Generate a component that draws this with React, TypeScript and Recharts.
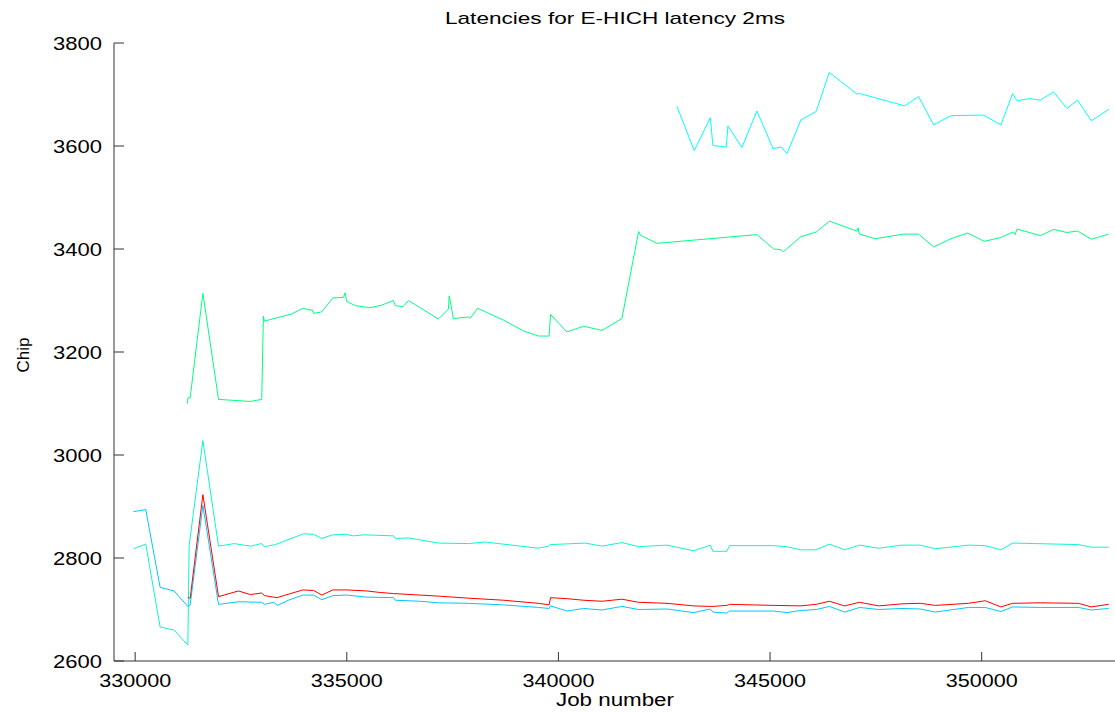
import { LineChart, Line, XAxis, YAxis } from 'recharts'

const xTicks = [330000, 335000, 340000, 345000, 350000]
const yTicks = [2600, 2800, 3000, 3200, 3400, 3600, 3800]

// top cyan series
const topJobs = [342800, 343210, 343590, 343650, 343965, 344005, 344335, 344690, 345070, 345265, 345400, 345730, 346090, 346400, 347050, 347115, 348180, 348510, 348865, 349280, 350045, 350455, 350730, 350835, 351130, 351385, 351700, 352015, 352265, 352590, 353000]
const topChips = [3677, 3591, 3655, 3601, 3598, 3639, 3597, 3668, 3595, 3598, 3585, 3651, 3667, 3743, 3701, 3702, 3678, 3696, 3641, 3659, 3660, 3641, 3702, 3688, 3692, 3689, 3705, 3673, 3689, 3649, 3671]

// green series
const greenJobs = [331236, 331245, 331300, 331600, 331970, 332720, 332990, 333030, 333055, 333700, 333960, 334150, 334175, 334215, 334410, 334670, 334920, 334960, 335000, 335200, 335550, 335830, 336100, 336145, 336325, 336460, 337165, 337400, 337420, 337520, 337875, 337915, 338090, 338700, 339175, 339530, 339780, 339815, 340200, 340595, 341030, 341500, 341895, 341935, 342330, 344690, 345085, 345240, 345320, 345730, 346090, 346405, 347050, 347080, 347110, 347485, 348155, 348510, 348865, 349300, 349670, 350060, 350440, 350740, 350790, 350835, 351385, 351700, 352015, 352265, 352590, 353000]
const greenChips = [3100, 3111, 3111, 3314, 3108, 3104, 3108, 3270, 3260, 3274, 3285, 3281, 3283, 3275, 3278, 3305, 3306, 3315, 3298, 3290, 3286, 3291, 3300, 3290, 3288, 3300, 3264, 3283, 3309, 3265, 3268, 3265, 3285, 3262, 3241, 3231, 3231, 3273, 3239, 3250, 3242, 3265, 3434, 3427, 3411, 3428, 3400, 3399, 3395, 3424, 3433, 3454, 3435, 3441, 3429, 3420, 3429, 3429, 3404, 3421, 3431, 3415, 3422, 3433, 3428, 3439, 3426, 3438, 3432, 3435, 3419, 3429]

// turquoise series
const turqJobs = [329960, 330250, 330590, 330920, 331245, 331275, 331600, 331970, 332340, 332720, 332990, 333055, 333310, 333975, 334215, 334410, 334670, 334960, 335160, 335400, 336105, 336145, 336460, 337165, 337875, 338270, 339530, 339765, 339805, 340635, 341030, 341500, 341895, 342565, 343195, 343590, 343650, 343980, 344045, 345085, 345400, 345715, 346090, 346405, 346760, 347115, 347565, 348115, 348550, 348905, 349690, 350085, 350455, 350730, 352290, 352585, 353000]
const turqChips = [2818, 2827, 2666, 2660, 2631, 2824, 3028, 2823, 2828, 2823, 2828, 2822, 2826, 2847, 2846, 2838, 2845, 2846, 2843, 2845, 2843, 2838, 2839, 2829, 2828, 2831, 2819, 2823, 2826, 2829, 2823, 2830, 2822, 2825, 2814, 2825, 2813, 2813, 2824, 2824, 2822, 2816, 2816, 2827, 2816, 2825, 2819, 2825, 2825, 2818, 2825, 2824, 2816, 2829, 2826, 2821, 2821]

// red series
const redJobs = [331245, 331300, 331600, 331970, 332440, 332720, 332990, 333055, 333350, 333960, 334215, 334410, 334670, 335000, 335475, 335790, 336105, 336735, 337165, 337875, 338700, 339530, 339780, 339815, 340200, 340595, 341030, 341500, 341895, 342565, 343195, 343590, 343650, 343980, 344045, 345085, 345715, 346090, 346405, 346760, 347115, 347565, 348115, 348550, 348905, 349690, 350085, 350455, 350730, 351385, 352290, 352585, 353000]
const redChips = [2723, 2722, 2923, 2725, 2736, 2729, 2732, 2727, 2723, 2738, 2737, 2728, 2738, 2738, 2736, 2733, 2731, 2728, 2726, 2722, 2718, 2712, 2709, 2723, 2721, 2718, 2716, 2720, 2714, 2712, 2707, 2706, 2706, 2708, 2710, 2708, 2707, 2710, 2716, 2707, 2714, 2707, 2711, 2712, 2708, 2712, 2717, 2705, 2712, 2713, 2712, 2705, 2710]

// blue series
const blueJobs = [329960, 330250, 330590, 330920, 331245, 331300, 331600, 331970, 332440, 332990, 333055, 333270, 333365, 333620, 333960, 334215, 334410, 334670, 335000, 335475, 336105, 336145, 336735, 337165, 337875, 338700, 339530, 339780, 339815, 340200, 340595, 341030, 341500, 341895, 342565, 343195, 343590, 343650, 343980, 344045, 345085, 345400, 345715, 346090, 346405, 346760, 347115, 347565, 348115, 348550, 348905, 349690, 350085, 350455, 350730, 351385, 352290, 352585, 353000]
const blueChips = [2890, 2894, 2743, 2736, 2706, 2709, 2902, 2710, 2715, 2714, 2710, 2714, 2708, 2718, 2728, 2728, 2719, 2727, 2728, 2724, 2723, 2718, 2716, 2713, 2712, 2709, 2704, 2702, 2707, 2697, 2702, 2699, 2706, 2700, 2701, 2694, 2701, 2695, 2693, 2697, 2697, 2694, 2698, 2700, 2706, 2695, 2704, 2700, 2702, 2701, 2695, 2704, 2704, 2696, 2705, 2704, 2704, 2699, 2702]

const toPoints = (jobs: number[], chips: number[]) => jobs.map((job, i) => ({ job, chip: chips[i] }))

const series = [
  { name: 'top', color: '#00ffff', data: toPoints(topJobs, topChips) },
  { name: 'green', color: '#00ff80', data: toPoints(greenJobs, greenChips) },
  { name: 'turq', color: '#10f5d0', data: toPoints(turqJobs, turqChips) },
  { name: 'blue', color: '#00c8ff', data: toPoints(blueJobs, blueChips) },
  { name: 'red', color: '#ff0000', data: toPoints(redJobs, redChips) },
]

const font = '"Liberation Sans", Arial, sans-serif'
const axisColor = '#333'

const BottomTick = (props: any) => {
  const { x, y, payload } = props
  return (
    <g>
      <line x1={x} y1={y} x2={x} y2={y - 9} stroke={axisColor} />
      <text x={x} y={y + 26} textAnchor="middle" fontFamily={font} fontSize={18.5} textLength={72} lengthAdjust="spacingAndGlyphs" fill="#000">
        {payload.value}
      </text>
    </g>
  )
}

const TopTick = (props: any) => {
  const { x, y } = props
  return <line x1={x} y1={y} x2={x} y2={y + 9} stroke={axisColor} />
}

const LeftTick = (props: any) => {
  const { x, y, payload } = props
  return (
    <g>
      <line x1={x} y1={y} x2={x + 10} y2={y} stroke={axisColor} />
      <text x={x - 61} y={y + 6.5} fontFamily={font} fontSize={18.5} textLength={49} lengthAdjust="spacingAndGlyphs" fill="#000">
        {payload.value}
      </text>
    </g>
  )
}

const RightTick = (props: any) => {
  const { x, y } = props
  return <line x1={x} y1={y} x2={x - 10} y2={y} stroke={axisColor} />
}

export default function App() {
  return (
    <div style={{ position: 'absolute', left: 0, top: 0, width: 1115, height: 713, background: '#fff' }}>
      <LineChart width={1115} height={713} margin={{ top: 43, right: 0, bottom: 0, left: 0 }}>
        <XAxis xAxisId="bottom" type="number" dataKey="job" domain={[329500, 353150]} ticks={xTicks}
          allowDataOverflow height={52} tickSize={0} tickMargin={0} tickLine={false}
          axisLine={{ stroke: axisColor }} tick={BottomTick} />
        <XAxis xAxisId="top" orientation="top" type="number" dataKey="job" domain={[329500, 353150]} ticks={xTicks}
          allowDataOverflow height={0} tickSize={0} tickMargin={0} tickLine={false}
          axisLine={{ stroke: axisColor }} tick={TopTick} />
        <YAxis yAxisId="left" type="number" domain={[2600, 3800]} ticks={yTicks} allowDataOverflow
          width={114} tickSize={0} tickMargin={0} tickLine={false} axisLine={{ stroke: axisColor }} tick={LeftTick} />
        <YAxis yAxisId="right" orientation="right" type="number" domain={[2600, 3800]} ticks={yTicks} allowDataOverflow
          width={0} tickSize={0} tickMargin={0} tickLine={false} axisLine={false} tick={RightTick} />
        {series.map((s) => (
          <Line key={s.name} xAxisId="bottom" yAxisId="left" data={s.data} dataKey="chip" type="linear"
            stroke={s.color} strokeWidth={1} dot={false} activeDot={false} isAnimationActive={false} />
        ))}
      </LineChart>
      <svg width={1115} height={713} style={{ position: 'absolute', left: 0, top: 0, pointerEvents: 'none' }}>
        <text x={615} y={24} textAnchor="middle" fontFamily={font} fontSize={17} textLength={340} lengthAdjust="spacingAndGlyphs">
          Latencies for E-HICH latency 2ms
        </text>
        <text x={615} y={706} textAnchor="middle" fontFamily={font} fontSize={18} textLength={118} lengthAdjust="spacingAndGlyphs">
          Job number
        </text>
        <text x={0} y={0} transform="translate(29,355) rotate(-90)" textAnchor="middle" fontFamily={font} fontSize={17}>
          Chip
        </text>
      </svg>
    </div>
  )
}
